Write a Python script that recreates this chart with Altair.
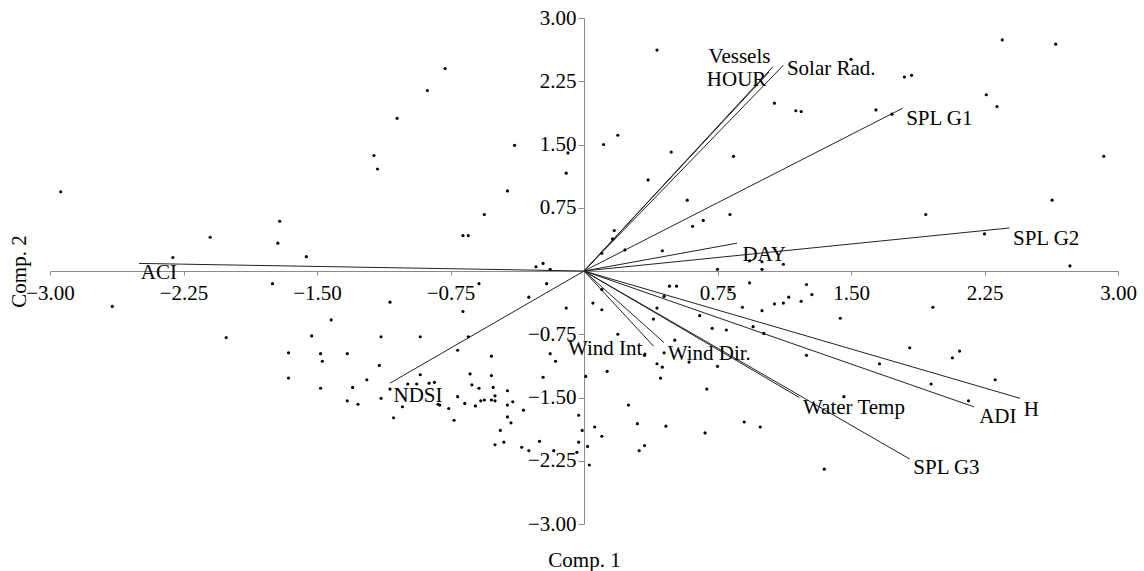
import altair as alt
import pandas as pd

# ---- sample scores (Comp. 1, Comp. 2) ----
pc1 = [-2.94, -2.31, -2.10, -1.71, -1.72, -1.56, -0.78, -0.88, -1.05, -1.18,
       -1.16, -0.39, -0.09, -0.10, -0.43, -0.56, -0.68, -0.65, -0.27, -0.23,
       -0.19, 0.41, 0.11, 0.19, 0.49, 0.84, 0.36, 1.07, 1.19, 1.22,
       0.58, 0.61, 0.67, 0.82, 0.17, 0.16, 0.10, 0.23, 0.44, 0.93,
       1.00, 1.00, 0.75, 1.12, 1.50, 2.35, 2.65, 1.80, 1.84, 2.26,
       2.32, 1.64, 1.73, 2.92, 2.63, 1.92, 2.25, 2.73, -2.65, -2.01,
       -1.75, -1.66, -1.66, -1.53, -1.48, -1.47, -1.48, -1.42, -1.09, -1.14,
       -0.92, -1.33, -1.15, -1.22, -0.92, -1.30, -1.33, -1.27, -1.14, -1.09,
       -1.02, -1.07, -0.99, -0.94, -0.87, -0.84, -0.82, -0.81, -0.76, -0.73,
       -0.71, -0.68, -0.71, -0.67, -0.59, -0.21, -0.31, -0.10, 0.05, -0.65,
       -0.52, -0.19, -0.16, -0.23, 0.01, -0.64, -0.52, -0.63, -0.59, -0.51,
       -0.43, -0.61, -0.58, -0.56, -0.52, -0.50, -0.50, -0.43, -0.40, -0.34,
       -0.43, -0.41, -0.47, -0.50, -0.45, -0.35, -0.31, -0.25, -0.17, -0.03,
       -0.01, -0.03, -0.04, 0.06, 0.02, 0.03, 0.48, 0.52, 0.10, 0.45,
       0.82, 0.93, 1.25, 1.28, 1.15, 1.12, 1.07, 1.22, 0.89, 1.00,
       0.10, 0.41, 0.39, 0.65, 0.72, 0.80, 0.95, 1.01, 1.44, 0.19,
       0.51, 0.34, 0.45, 0.59, 0.75, 1.25, 0.41, 0.44, 0.43, 0.13,
       0.69, 0.25, 1.46, 0.10, 0.30, 0.46, 0.68, 0.90, 0.99, 0.31,
       0.34, 1.35, 1.96, 1.83, 2.11, 2.07, 1.66, 1.95, 2.31, 2.16]
pc2 = [0.94, 0.16, 0.40, 0.59, 0.33, 0.17, 2.40, 2.14, 1.81, 1.37,
       1.21, 1.49, 1.40, 1.16, 0.95, 0.67, 0.42, 0.42, 0.05, 0.09,
       0.02, 2.62, 1.50, 1.61, 1.41, 1.36, 1.08, 1.99, 1.90, 1.89,
       0.84, 0.53, 0.60, 0.67, 0.48, 0.38, 0.21, 0.25, 0.24, 0.12,
       0.11, 0.02, 0.02, 0.08, 2.51, 2.74, 2.69, 2.30, 2.32, 2.09,
       1.95, 1.91, 1.86, 1.36, 0.84, 0.67, 0.44, 0.06, -0.42, -0.79,
       -0.15, -0.97, -1.27, -0.77, -0.98, -1.07, -1.39, -0.58, -0.37, -0.78,
       -0.78, -0.98, -1.12, -1.29, -1.23, -1.38, -1.54, -1.58, -1.51, -1.40,
       -1.61, -1.74, -1.34, -1.34, -1.33, -1.32, -1.58, -1.59, -1.63, -1.77,
       -1.49, -0.48, -0.94, -1.57, -0.15, -0.15, -0.31, -0.44, -0.38, -0.78,
       -1.01, -0.98, -1.07, -1.26, -1.25, -1.22, -1.24, -1.35, -1.39, -1.38,
       -1.42, -1.60, -1.54, -1.53, -1.53, -1.54, -1.48, -1.59, -1.55, -1.65,
       -1.73, -1.80, -1.89, -2.06, -2.03, -2.09, -2.13, -2.02, -2.13, -1.71,
       -1.89, -2.03, -2.15, -1.85, -2.08, -2.30, -0.18, -0.18, -0.22, -0.30,
       -0.22, -0.14, -0.16, -0.28, -0.31, -0.38, -0.39, -0.36, -0.43, -0.47,
       -0.46, -0.44, -0.57, -0.53, -0.68, -0.70, -0.66, -0.74, -0.56, -0.75,
       -0.82, -1.00, -0.97, -1.08, -1.13, -1.00, -1.10, -1.14, -1.27, -1.19,
       -1.40, -1.59, -1.49, -1.96, -1.81, -1.84, -1.92, -1.79, -1.85, -2.13,
       -2.07, -2.35, -0.43, -0.91, -0.95, -1.03, -1.10, -1.34, -1.29, -1.54]

# ---- variable loadings (arrow tips) and their label anchors ----
var_names = ["ACI", "NDSI", "Vessels", "HOUR", "Solar Rad.", "SPL G1", "SPL G2",
             "DAY", "Wind Int.", "Wind Dir.", "Water Temp", "SPL G3", "ADI", "H"]
load1 = [-2.50, -1.09, 1.06, 1.04, 1.12, 1.79, 2.39, 0.86, 0.39, 0.45, 1.21, 1.83, 2.19, 2.45]
load2 = [0.09, -1.33, 2.42, 2.36, 2.44, 1.93, 0.51, 0.33, -0.89, -0.85, -1.50, -2.23, -1.61, -1.51]
label_x = [-2.49, -1.07, 0.70, 0.69, 1.14, 1.81, 2.41, 0.89, -0.09, 0.47, 1.23, 1.85, 2.22, 2.47]
label_y = [-0.09, -1.55, 2.47, 2.19, 2.33, 1.73, 0.31, 0.12, -1.00, -1.06, -1.70, -2.41, -1.80, -1.72]

tick_values = [-3.0, -2.25, -1.5, -0.75, 0.0, 0.75, 1.5, 2.25, 3.0]

FONT = "Liberation Serif"
FS = 21
AXIS_COLOR = "#8a8a8a"

pts = pd.DataFrame({"pc1": pc1, "pc2": pc2})
vec = pd.DataFrame({"var": var_names, "vx": load1, "vy": load2,
                    "ox": [0.0] * len(var_names), "oy": [0.0] * len(var_names),
                    "lx": label_x, "ly": label_y})

W, H = 1068, 506
xs = alt.Scale(domain=[-3, 3], nice=False, zero=False)
ys = alt.Scale(domain=[-3, 3], nice=False, zero=False)
lab_expr = "datum.value == 0 ? '' : format(datum.value, '.2f')"

x_axis = alt.Axis(values=tick_values, labelExpr=lab_expr, offset=-H / 2, grid=False,
                  tickSize=4, labelPadding=7, domainColor=AXIS_COLOR, tickColor=AXIS_COLOR,
                  domainWidth=1, tickWidth=1, labelFont=FONT, labelFontSize=FS,
                  labelColor="black", labelFlush=False, labelOverlap=False,
                  title="Comp. 1", titleFont=FONT, titleFontSize=FS, titleFontWeight="normal",
                  titleColor="black", titleX=W / 2, titleY=295, titleBaseline="alphabetic",
                  titleAlign="center")
y_axis = alt.Axis(values=tick_values, labelExpr=lab_expr, offset=-W / 2, grid=False,
                  tickSize=6, labelPadding=2, domainColor=AXIS_COLOR, tickColor=AXIS_COLOR,
                  domainWidth=1, tickWidth=1, labelFont=FONT, labelFontSize=FS,
                  labelColor="black", labelFlush=False, labelOverlap=False,
                  title="Comp. 2", titleFont=FONT, titleFontSize=FS, titleFontWeight="normal",
                  titleColor="black", titleX=-559, titleY=H / 2, titleAngle=270,
                  titleBaseline="alphabetic", titleAlign="center")

points = alt.Chart(pts).mark_circle(size=10, color="black", opacity=1).encode(
    x=alt.X("pc1:Q", scale=xs, axis=x_axis),
    y=alt.Y("pc2:Q", scale=ys, axis=y_axis),
)

arrows = alt.Chart(vec).mark_rule(color="#222222", strokeWidth=1).encode(
    x=alt.X("ox:Q", scale=xs),
    y=alt.Y("oy:Q", scale=ys),
    x2="vx:Q",
    y2="vy:Q",
)

labels = alt.Chart(vec).mark_text(align="left", baseline="alphabetic", font=FONT,
                                  fontSize=FS, color="black").encode(
    x=alt.X("lx:Q", scale=xs),
    y=alt.Y("ly:Q", scale=ys),
    text="var:N",
)

chart = alt.layer(arrows, points, labels).properties(
    width=W, height=H,
    autosize=alt.AutoSizeParams(type="none"),
    padding={"left": 50, "top": 18, "right": 26, "bottom": 47},
).configure_view(stroke=None)

chart.save("out.html", embed_options={"renderer": "svg", "actions": False})
